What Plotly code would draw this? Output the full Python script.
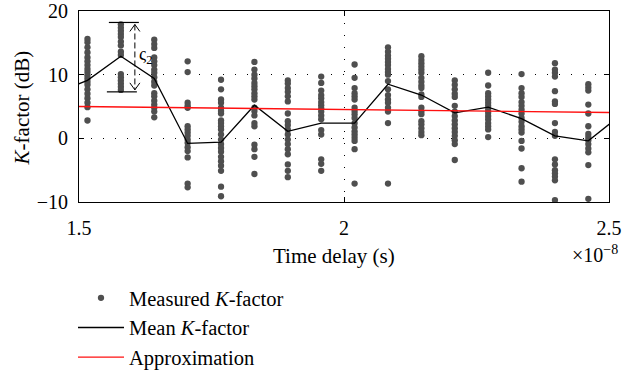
import plotly.graph_objects as go

# ---- data (time delay in units of 1e-8 s, K-factor in dB) ----
time_delay = [1.516, 1.579, 1.642, 1.705, 1.768, 1.831, 1.894, 1.957,
              2.020, 2.083, 2.146, 2.209, 2.272, 2.335, 2.398, 2.461]

k01 = [15.6, 15.1, 14.3, 13.5, 12.7, 12.1, 11.5, 10.9, 10.4, 9.9, 9.4, 8.9, 8.4, 7.7, 7.0, 6.3, 5.6, 4.9, 2.8]
k02 = [17.9, 17.4, 16.9, 16.4, 15.9, 15.2, 14.6, 13.6, 13.1, 10.1, 9.6, 9.1, 8.6, 8.1, 7.6]
k03 = [15.5, 14.8, 14.2, 12.7, 12.1, 11.5, 10.8, 10.3, 9.6, 8.9, 8.3, 7.1, 6.6, 5.9, 5.3, 4.8, 4.2, 3.3]
k04 = [12.1, 10.4, 5.6, 5.1, 4.8, 1.9, 1.4, 0.9, 0.4, -0.2, -0.7, -1.4, -2.0, -3.0, -7.1, -7.7]
k05 = [9.2, 7.7, 6.1, 5.6, 4.8, 4.3, 3.9, 2.8, 2.4, 1.9, 1.4, 0.6, -0.2, -0.9, -1.5, -2.1, -2.9, -3.6, -4.3, -5.1, -7.6, -9.1]
k06 = [12.0, 10.8, 10.0, 9.4, 8.7, 8.2, 7.7, 7.1, 6.6, 6.1, 4.8, 4.3, 3.6, 2.4, 1.9, -1.0, -1.7, -2.9, -5.6]
k07 = [9.1, 8.6, 7.9, 7.3, 6.6, 5.8, 3.9, 2.7, 2.1, 1.4, 0.6, -0.2, -0.9, -1.7, -2.5, -4.1, -5.1, -6.1]
k08 = [9.7, 8.7, 7.5, 6.8, 6.3, 5.7, 5.2, 4.7, 4.2, 3.6, 3.0, 1.3, 0.6, -3.3, -4.0, -5.1]
k09 = [11.6, 9.5, 7.9, 7.1, 6.6, 6.1, 4.8, 4.3, 3.8, 3.2, 2.4, 1.7, 1.1, 0.6, 0.1, -0.4, -1.7, -7.1]
k10 = [14.3, 13.6, 13.0, 12.5, 12.0, 11.5, 10.9, 10.4, 10.0, 9.0, 7.7, 6.8, 6.1, 5.6, 4.8, 4.2, 2.4, -7.1]
k11 = [12.9, 12.3, 11.8, 11.3, 10.8, 10.3, 9.5, 8.9, 8.3, 7.9, 6.9, 6.5, 4.8, 4.2, 3.8, 2.7, 2.2, 1.6, 1.0, 0.5]
k12 = [9.1, 8.4, 7.7, 7.0, 6.5, 5.1, 4.2, 3.5, 2.8, 2.2, 1.6, 1.0, 0.4, -0.3, -0.9, -3.4]
k13 = [10.3, 8.3, 7.1, 6.6, 6.1, 5.6, 5.1, 4.5, 4.0, 3.5, 3.0, 2.4, 1.9, 1.4, 0.2]
k14 = [10.1, 7.9, 7.1, 6.5, 5.7, 5.1, 4.5, 3.9, 3.2, 2.6, 1.9, 1.4, 0.9, -0.4, -1.6, -4.7, -6.8]
k15 = [11.8, 10.8, 10.3, 9.7, 7.4, 5.8, 5.4, 2.4, 1.0, 0.4, -3.3, -4.1, -5.0, -5.5, -6.0, -6.6, -9.7]
k16 = [8.5, 8.0, 7.5, 5.3, 3.9, 1.9, 0.7, 0.2, -0.3, -0.9, -1.6, -2.2, -4.2, -9.5]
measured_cols = [k01, k02, k03, k04, k05, k06, k07, k08, k09, k10, k11, k12, k13, k14, k15, k16]

mean_time = [1.453, 1.516, 1.579, 1.642, 1.705, 1.768, 1.831, 1.894, 1.957,
             2.020, 2.083, 2.146, 2.209, 2.272, 2.335, 2.398, 2.461, 2.524]
mean_k = [7.0, 9.1, 12.9, 9.4, -0.8, -0.6, 5.2, 1.1, 2.4,
          2.4, 8.5, 6.8, 4.0, 4.9, 3.1, 0.4, -0.4, 3.8]

approx_time = [1.5, 2.5]
approx_k = [5.0, 4.05]

x_ticks = [1.5, 2, 2.5]
x_tick_text = ["1.5", "2", "2.5"]
y_ticks = [-10, 0, 10, 20]
y_tick_text = ["\u221210", "0", "10", "20"]

# ---- build ----
scatter_x = [t for t, col in zip(time_delay, measured_cols) for _ in col]
scatter_y = [v for col in measured_cols for v in col]

FONT = "Liberation Serif"
fig = go.Figure()
fig.add_trace(go.Scatter(x=scatter_x, y=scatter_y, mode="markers",
                         marker=dict(color="#4f4f4f", size=6.3),
                         name="Measured <i>K</i>-factor"))
fig.add_trace(go.Scatter(x=mean_time, y=mean_k, mode="lines",
                         line=dict(color="black", width=1.3),
                         name="Mean <i>K</i>-factor"))
fig.add_trace(go.Scatter(x=approx_time, y=approx_k, mode="lines",
                         line=dict(color="#ff1010", width=1.4),
                         name="Approximation"))

# ---- sigma_2 spread annotation on the second column ----
px_x = 1.0 / 530.0
px_y = 30.0 / 191.0
col = k02
top = max(col) + 0.3
bot = min(col) - 0.3
xa = time_delay[1] + 14 * px_x
sh = []
sh.append(dict(type="line", x0=time_delay[1] - 12 * px_x, x1=time_delay[1] + 18 * px_x,
               y0=top, y1=top, line=dict(color="black", width=1.2)))
sh.append(dict(type="line", x0=time_delay[1] - 14 * px_x, x1=time_delay[1] + 16 * px_x,
               y0=bot, y1=bot, line=dict(color="black", width=1.2)))
sh.append(dict(type="line", x0=xa, x1=xa, y0=top - 2 * px_y, y1=bot + 2 * px_y,
               line=dict(color="black", width=1, dash="6px,3px")))
sh.append(dict(type="path",
               path=f"M {xa - 5*px_x},{top - 9*px_y} L {xa},{top - 2*px_y} L {xa + 5*px_x},{top - 9*px_y}",
               line=dict(color="black", width=1)))
sh.append(dict(type="path",
               path=f"M {xa - 5*px_x},{bot + 9*px_y} L {xa},{bot + 2*px_y} L {xa + 5*px_x},{bot + 9*px_y}",
               line=dict(color="black", width=1)))
for s in sh:
    s.update(xref="x", yref="y")
fig.update_layout(shapes=sh)

fig.add_annotation(x=xa + 2 * px_x, y=(top + bot) / 2 + 0.2, xref="x", yref="y",
                   text="\u03c2<sub>2</sub>", showarrow=False, xanchor="left",
                   font=dict(family=FONT, size=18, color="black"))
fig.add_annotation(x=1.0 + 11 / 530, y=-52 / 191, xref="paper", yref="paper",
                   text="\u00d710<sup>\u22128</sup>", showarrow=False, xanchor="right",
                   yanchor="middle", font=dict(family=FONT, size=20, color="black"))
# axis titles
fig.add_annotation(x=(334 - 79) / 530, y=-54 / 191, xref="paper", yref="paper",
                   text="Time delay (s)", showarrow=False, xanchor="center", yanchor="middle",
                   font=dict(family=FONT, size=21, color="black"))
fig.add_annotation(x=(22 - 79) / 530, y=0.49, xref="paper", yref="paper",
                   text="<i>K</i>-factor (dB)", showarrow=False, textangle=-90,
                   xanchor="center", yanchor="middle",
                   font=dict(family=FONT, size=21, color="black"))

axis_common = dict(showline=True, linecolor="black", linewidth=1, mirror="ticks",
                   ticks="inside", ticklen=5, tickcolor="black", automargin=False,
                   showgrid=True, gridcolor="black", gridwidth=1, griddash="1px,11px",
                   zeroline=False, tickfont=dict(family=FONT, size=20, color="black"))

fig.update_xaxes(range=[1.5, 2.5], tickvals=x_ticks, ticktext=x_tick_text,
                 ticklabelstandoff=8, **axis_common)
fig.update_yaxes(range=[-10, 20], tickvals=y_ticks, ticktext=y_tick_text,
                 ticklabelstandoff=6, **axis_common)

fig.update_layout(
    width=638, height=371,
    margin=dict(l=79, r=29, t=11, b=169, autoexpand=False),
    plot_bgcolor="white", paper_bgcolor="white",
    font=dict(family=FONT, size=20, color="black"),
    showlegend=True,
    legend=dict(x=73 / 638, y=1 - 278 / 371, xref="container", yref="container",
                xanchor="left", yanchor="top",
                bgcolor="rgba(0,0,0,0)", font=dict(family=FONT, size=20.5, color="black"),
                itemwidth=46, tracegroupgap=0),
)

fig.write_html("out.html")
